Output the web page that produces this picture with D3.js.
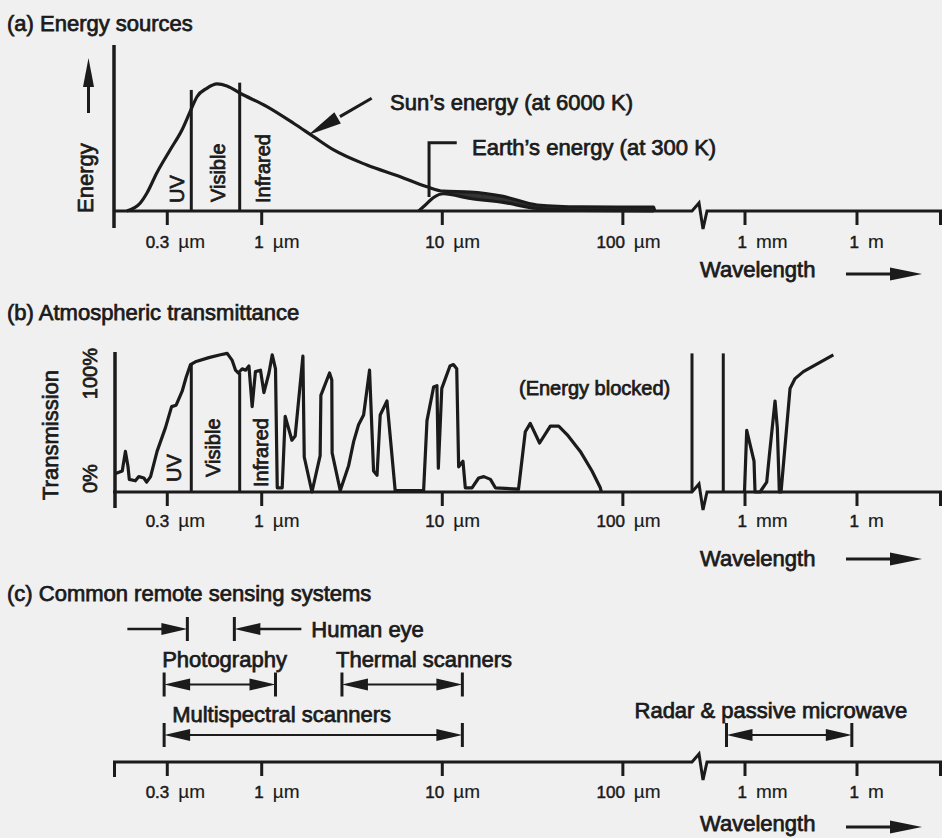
<!DOCTYPE html>
<html>
<head>
<meta charset="utf-8">
<script src="https://cdn.jsdelivr.net/npm/d3@7"></script>
<style>
  body { margin: 0; background: #f0f0f0; }
  svg { display: block; }
  text { font-family: "Liberation Sans", Arial, sans-serif; fill: #1b1b1b; stroke: #1b1b1b; stroke-width: 0.75px; }
  .title, .lab { font-size: 22px; }
  .band { font-size: 20px; }
  .tick-num { font-size: 17px; stroke-width: 0.5px; }
  .tick-unit { font-size: 19px; stroke-width: 0.15px; }
</style>
</head>
<body>
<div id="chart"></div>
<script>
const width = 942;
const height = 838;
const ink = "#1b1b1b";

// ---- data (wavelengths in µm) ----
const tickWl = [0.3, 1, 10, 100, 1e3, 1e6];
const tickNum = ["0.3", "1", "10", "100", "1", "1"];
const tickUnit = ["µm", "µm", "µm", "µm", "mm", "m"];

const bandNames = ["UV", "Visible", "Infrared"];
const bandEdges = [0.41, 0.76];
const bandEdgeEnergy = [94.8, 100.5];
const bandEdgeTrans = [91, 85];

// [wavelength, relative energy]
const sunSpectrum = [[0.180, 0], [0.214, 6.3], [0.233, 14.1], [0.264, 29.8], [0.313, 47.8], [0.364, 63.4],
  [0.404, 77.8], [0.441, 89.5], [0.500, 96.1], [0.569, 99.5], [0.646, 97.9], [0.765, 92.2], [1.076, 81.7],
  [1.51, 68.7], [1.95, 58.2], [2.52, 47.8], [3.85, 36.0], [5.89, 26.9], [8.28, 19.0], [10.2, 15.5],
  [14.4, 14.9], [21.9, 11.4], [33.8, 4.7], [58.5, 3.2], [149, 3.0], [151, 0]];
const earthSpectrum = [[7.44, 0], [8.11, 4.7], [9.01, 10.6], [10.2, 13.5], [14.4, 9.8], [21.9, 6.7],
  [33.8, 2.0], [58.5, 0.5], [149, 0]];

// [wavelength, transmission %]
const transShort = [[0.155, 13], [0.170, 15], [0.177, 29], [0.183, 18], [0.186, 9], [0.201, 8], [0.210, 11],
  [0.224, 10], [0.232, 7], [0.244, 11], [0.265, 29], [0.295, 46], [0.319, 61], [0.338, 62], [0.365, 72],
  [0.384, 82], [0.406, 91], [0.432, 93], [0.513, 96], [0.595, 98], [0.648, 99], [0.691, 94], [0.721, 87],
  [0.746, 85], [0.785, 88], [0.819, 87], [0.855, 90], [0.891, 61], [0.929, 86], [0.991, 87], [1.035, 71],
  [1.104, 85], [1.151, 98], [1.20, 88], [1.227, 3], [1.307, 3], [1.358, 54], [1.479, 37], [1.542, 40],
  [1.702, 97], [1.731, 25], [1.910, 0], [2.12, 26], [2.14, 69], [2.39, 85], [2.46, 80], [2.47, 28],
  [2.74, 1], [3.05, 19], [3.25, 36], [3.46, 48], [3.69, 55], [3.98, 87], [4.19, 15], [4.38, 12],
  [4.56, 55], [4.97, 65], [5.52, 1], [7.93, 1], [8.28, 51], [9.01, 75], [9.40, 76], [9.57, 17],
  [10.0, 74], [11.1, 90], [11.6, 91], [12.1, 88], [12.4, 18], [13.1, 22], [13.5, 3], [14.7, 3],
  [16.0, 10], [17.1, 11], [18.6, 9], [19.8, 3], [26.6, 2], [29.0, 43], [30.9, 49], [34.8, 35],
  [39.9, 47], [44.4, 47], [49.4, 41], [58.5, 29], [67.9, 15], [75.5, 3], [76.5, 0]];
const transLong = [[1000, 0], [1146, 44], [1560, 29], [1799, 22], [1914, 0], [2606, 0], [3936, 7],
  [4624, 26], [6577, 65], [7568, 46], [8570, 0], [9526, 0], [16600, 74], [22600, 81], [37700, 86],
  [240000, 98]];
const breakWl = [243, 270];

const systemNames = ["Human eye", "Photography", "Thermal scanners", "Multispectral scanners", "Radar & passive microwave"];
const systemLow = [0.39, 0.29, 2.8, 0.29, 330];
const systemHigh = [0.71, 1.2, 13, 13, 7.5e5];

// ---- scales ----
const xL = d3.scaleLog().domain([0.155, breakWl[0]]).range([115, 692]);
const xR = d3.scaleLog().domain([1e3, 1e6]).range([744.5, 856.5]);
const x = w => w <= breakWl[0] ? xL(w) : xR(w);

const yA = d3.scaleLinear().domain([0, 130]).range([211, 45]);
const yB = d3.scaleLinear().domain([0, 100]).range([492, 352]);
const baseC = 762;

const svg = d3.select("#chart").append("svg")
  .attr("width", width)
  .attr("height", height);

svg.append("rect").attr("width", width).attr("height", height).attr("fill", "#f0f0f0");

function head(g, tx, ty, fx, fy, len, half) {
  const L = Math.hypot(tx - fx, ty - fy);
  const ux = (tx - fx) / L, uy = (ty - fy) / L;
  const bx = tx - ux * len, by = ty - uy * len;
  g.append("path")
    .attr("d", d3.line()([[tx, ty], [bx - uy * half, by + ux * half], [bx + uy * half, by - ux * half]]) + "Z")
    .attr("fill", ink);
}

function line(g, x1, y1, x2, y2, w) {
  g.append("line").attr("x1", x1).attr("y1", y1).attr("x2", x2).attr("y2", y2)
    .attr("stroke", ink).attr("stroke-width", w);
}

function drawAxis(base, labelDy, wlDy, arrowDy) {
  const g = svg.append("g");
  const b0 = xL(breakWl[0]);
  const p = d3.path();
  p.moveTo(113, base); p.lineTo(b0, base);
  p.lineTo(b0 + 7, base - 8); p.lineTo(b0 + 11, base + 18); p.lineTo(b0 + 15, base);
  p.lineTo(width, base);
  g.append("path").attr("d", p).attr("fill", "none").attr("stroke", ink).attr("stroke-width", 3);

  [[xL, tickWl.filter(w => w <= breakWl[0])], [xR, tickWl.filter(w => w > breakWl[0])]].forEach(([sc, vals]) => {
    const ax = g.append("g").attr("transform", `translate(0,${base})`)
      .call(d3.axisBottom(sc).tickValues(vals).tickSize(14).tickSizeOuter(0).tickFormat(""));
    ax.select(".domain").remove();
    ax.selectAll(".tick line").attr("stroke", ink).attr("stroke-width", 3);
    ax.selectAll(".tick").each(function(w) {
      const i = tickWl.indexOf(w);
      const t = d3.select(this);
      t.append("text").attr("class", "tick-num").attr("x", 2).attr("y", labelDy)
        .attr("text-anchor", "end").text(tickNum[i]);
      t.append("text").attr("class", "tick-unit").attr("x", 11).attr("y", labelDy)
        .attr("text-anchor", "start").text(tickUnit[i]);
    });
  });
  // right end tick
  line(g, width - 1.5, base, width - 1.5, base + 14, 3);

  g.append("text").attr("class", "lab").attr("x", 700).attr("y", base + wlDy).text("Wavelength");
  line(g, 846, base + arrowDy, 895, base + arrowDy, 3);
  head(g, 922, base + arrowDy, 846, base + arrowDy, 32, 6.5);
}

function rotLabel(g, text, cx, bottom, cls, anchor) {
  g.append("text").attr("class", cls)
    .attr("transform", `translate(${cx},${bottom}) rotate(-90)`)
    .attr("dy", "0.35em")
    .attr("text-anchor", anchor || "start")
    .text(text);
}

// ================= (a) Energy sources =================
{
  const g = svg.append("g");
  g.append("text").attr("class", "title").attr("x", 7).attr("y", 31).text("(a) Energy sources");
  drawAxis(yA(0), 37, 66, 63);
  line(g, 114, yA(130), 114, yA(0) + 17, 3.5);

  // energy arrow + label
  line(g, 88.5, 113, 88.5, 84, 3);
  head(g, 88.5, 58, 88.5, 113, 29, 5.5);
  rotLabel(g, "Energy", 85, 213, "lab");

  // overlap band between sun and earth tails
  const sunTail = sunSpectrum.filter(d => d[0] >= 10.2 && d[0] <= 149);
  const earthTail = earthSpectrum.filter(d => d[0] >= 10.2).reverse();
  g.append("path")
    .attr("d", d3.line().x(d => x(d[0])).y(d => yA(d[1])).curve(d3.curveMonotoneX)(sunTail) + "L" +
      d3.line().x(d => x(d[0])).y(d => yA(d[1]))(earthTail).slice(1) + "Z")
    .attr("fill", "#333");

  const curve = d3.line().x(d => x(d[0])).y(d => yA(d[1])).curve(d3.curveMonotoneX);
  [sunSpectrum, earthSpectrum].forEach(s => {
    g.append("path").attr("d", curve(s)).attr("fill", "none")
      .attr("stroke", ink).attr("stroke-width", 3.2).attr("stroke-linejoin", "round");
  });

  bandEdges.forEach((w, i) => line(g, x(w), yA(0), x(w), yA(bandEdgeEnergy[i]), 3));
  rotLabel(g, bandNames[0], x(bandEdges[0]) - 14, yA(0) - 8, "band");
  rotLabel(g, bandNames[1], x(bandEdges[0]) + 27, yA(0) - 9, "band");
  rotLabel(g, bandNames[2], x(bandEdges[1]) + 23, yA(0) - 8, "band");

  // annotations
  g.append("text").attr("class", "lab").attr("x", 390).attr("y", 110).text("Sun’s energy (at 6000 K)");
  const tail = [x(4.09), yA(88.3)], tip = [x(1.82), yA(59.5)];
  line(g, tail[0], tail[1], (tail[0] + tip[0]) / 2, (tail[1] + tip[1]) / 2, 3);
  head(g, tip[0], tip[1], tail[0], tail[1], 34, 6.5);

  g.append("text").attr("class", "lab").attr("x", 472).attr("y", 155).text("Earth’s energy (at 300 K)");
  const ex = x(8.5);
  g.append("path").attr("d", d3.line()([[ex, yA(11)], [ex, yA(53.5)], [x(12.1), yA(53.5)]]))
    .attr("fill", "none").attr("stroke", ink).attr("stroke-width", 3);
}

// ================= (b) Atmospheric transmittance =================
{
  const g = svg.append("g");
  g.append("text").attr("class", "title").attr("x", 7).attr("y", 320).text("(b) Atmospheric transmittance");
  drawAxis(yB(0), 35, 74, 67);
  line(g, 115, yB(100), 115, yB(0) + 16, 3.5);

  rotLabel(g, "Transmission", 50, 500, "lab");
  rotLabel(g, "100%", 90, yB(100) - 4, "band", "end");
  rotLabel(g, "0%", 90, yB(0) + 1, "band");

  const tl = d3.line().x(d => x(d[0])).y(d => yB(d[1]));
  [transShort, transLong].forEach(s => {
    g.append("path").attr("d", tl(s)).attr("fill", "none")
      .attr("stroke", ink).attr("stroke-width", 3.2).attr("stroke-linejoin", "round");
  });

  bandEdges.forEach((w, i) => line(g, x(w), yB(0), x(w), yB(bandEdgeTrans[i]), 3));
  rotLabel(g, bandNames[0], x(bandEdges[0]) - 17, yB(0) - 10, "band");
  rotLabel(g, bandNames[1], x(bandEdges[0]) + 22, yB(0) - 15, "band");
  rotLabel(g, bandNames[2], x(bandEdges[1]) + 21, yB(0) - 5, "band");

  // walls either side of the axis break
  breakWl.forEach(w => line(g, x(w), yB(0), x(w), yB(99), 3));

  g.append("text").attr("class", "band").attr("x", 519).attr("y", 395).text("(Energy blocked)");
}

// ================= (c) Common remote sensing systems =================
{
  const g = svg.append("g");
  g.append("text").attr("class", "title").attr("x", 7).attr("y", 601).text("(c) Common remote sensing systems");
  drawAxis(baseC, 36, 69, 65);
  line(g, 114.5, baseC, 114.5, baseC + 15, 3);

  const rowOf = [0, 1, 1, 2, 2];
  const labelPos = [[0, 0], [-2, -17.5], [-6, -17.5], [8, -13], [-92, -17]];
  const hl = 26, hh = 6, bar = 12;

  systemNames.forEach((name, i) => {
    const y = [629, 684.5, 735][rowOf[i]];
    const x0 = x(systemLow[i]), x1 = x(systemHigh[i]);
    line(g, x0, y - bar, x0, y + bar, 3);
    line(g, x1, y - bar, x1, y + bar, 3);
    if (i === 0) {
      // inward-pointing arrows marking the visible window
      line(g, x0 - 60, y, x0 - hl + 2, y, 2.5);
      head(g, x0, y, x0 - hl, y, hl, hh);
      line(g, x1 + hl - 2, y, x1 + 67, y, 2.5);
      head(g, x1, y, x1 + hl, y, hl, hh);
      g.append("text").attr("class", "lab").attr("x", x1 + 77).attr("y", y + 8).text(name);
    } else {
      line(g, x0 + hl - 2, y, x1 - hl + 2, y, 2);
      head(g, x0, y, x1, y, hl, hh);
      head(g, x1, y, x0, y, hl, hh);
      g.append("text").attr("class", "lab")
        .attr("x", x0 + labelPos[i][0]).attr("y", y + labelPos[i][1]).text(name);
    }
  });
}
</script>
</body>
</html>
